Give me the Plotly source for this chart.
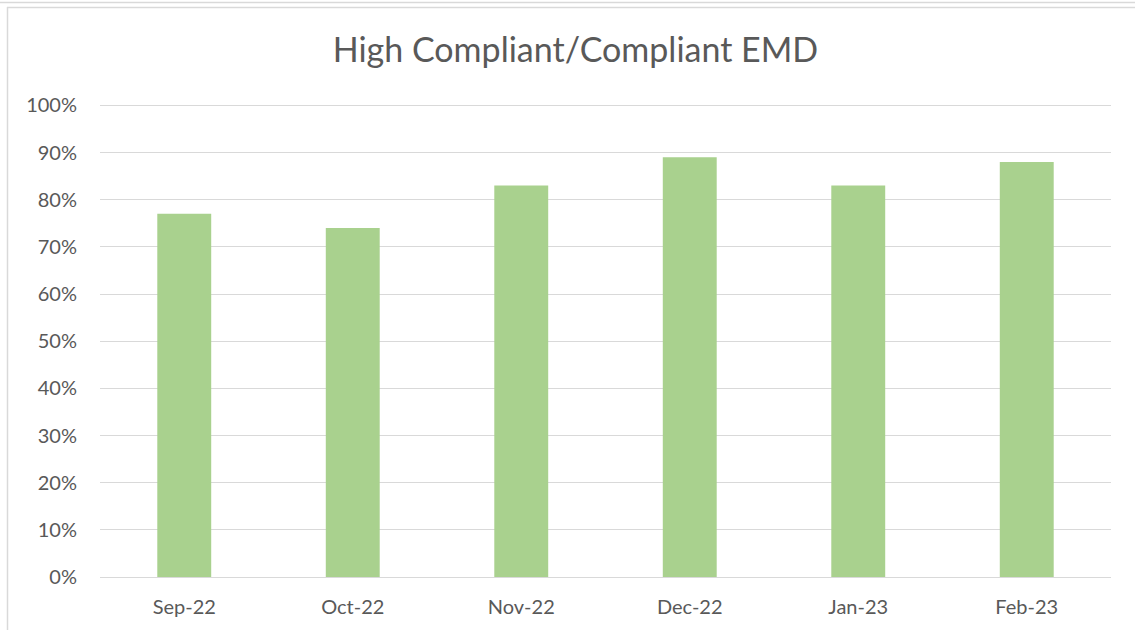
import plotly.graph_objects as go

categories = ["Sep-22", "Oct-22", "Nov-22", "Dec-22", "Jan-23", "Feb-23"]
values = [0.77, 0.74, 0.83, 0.89, 0.83, 0.88]
tick_vals = [i / 10 for i in range(11)]
tick_text = [f"{i*10}%" for i in range(11)]
title = "High Compliant/Compliant EMD"

fig = go.Figure(go.Bar(x=categories, y=values, marker_color="#A9D18E", marker_line_width=0))

W, H = 1135, 630
l, r, t, b = 100, 24, 103, 53
pw, ph = W - l - r, H - t - b

def px_x(x):
    return (x - l) / pw

def px_y(y):
    return (H - b - y) / ph

fig.update_layout(
    width=W, height=H,
    margin=dict(l=l, r=r, t=t, b=b),
    paper_bgcolor="white", plot_bgcolor="white",
    bargap=0.68,
    font=dict(family="Lato, Open Sans, sans-serif", color="#595959"),
    title=dict(text=title, x=0.507, xanchor="center", y=1 - 50 / H, yanchor="middle",
               font=dict(size=34, color="#595959")),
    showlegend=False,
    shapes=[
        dict(type="line", xref="paper", yref="paper", x0=px_x(7), x1=px_x(W), y0=px_y(7.5), y1=px_y(7.5),
             line=dict(color="#D9D9D9", width=1.5)),
        dict(type="line", xref="paper", yref="paper", x0=px_x(0), x1=px_x(W), y0=px_y(2.5), y1=px_y(2.5),
             line=dict(color="#D9D9D9", width=1.5)),
        dict(type="line", xref="paper", yref="paper", x0=px_x(7.5), x1=px_x(7.5), y0=px_y(7), y1=px_y(H),
             line=dict(color="#D9D9D9", width=1.5)),
    ],
)
fig.update_yaxes(range=[0, 1.005], tickvals=tick_vals, ticktext=tick_text, showgrid=True,
                 gridcolor="#D9D9D9", gridwidth=1, zeroline=False, showline=False,
                 tickfont=dict(size=20, color="#595959"), ticks="", ticklen=0, ticklabelstandoff=22)
fig.update_xaxes(showline=True, linecolor="#D9D9D9", linewidth=1, showgrid=False,
                 tickfont=dict(size=20, color="#595959"), ticks="", ticklabelstandoff=12)

fig.write_html("out.html", config={"displayModeBar": False},
               post_script="document.body.style.margin='0';")
